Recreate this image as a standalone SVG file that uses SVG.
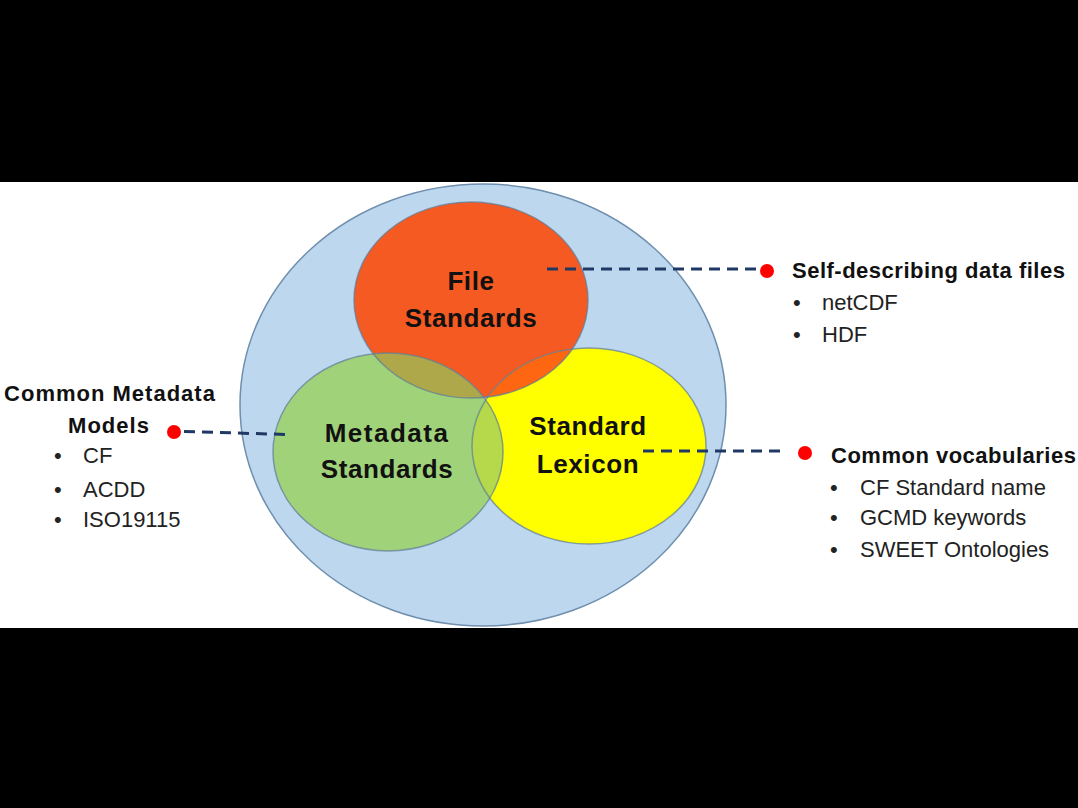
<svg xmlns="http://www.w3.org/2000/svg" width="1078" height="808" viewBox="0 0 1078 808">
<style>
.lbl{font-family:"Liberation Sans",Arial,sans-serif;font-weight:bold;font-size:26px;fill:#111;text-anchor:middle;letter-spacing:0.6px}
.hd{font-family:"Liberation Sans",Arial,sans-serif;font-weight:bold;font-size:22px;fill:#111;letter-spacing:0.5px}
.it{font-family:"Liberation Sans",Arial,sans-serif;font-size:22px;fill:#222}
.ol{fill:none;stroke:#5E7C98;stroke-width:1.5;stroke-opacity:0.7}
.dash{fill:none;stroke:#1F3864;stroke-width:3;stroke-dasharray:11 7}
.dot{fill:#FF0000}
</style>
<defs>
<clipPath id="cO"><ellipse cx="471" cy="300" rx="117" ry="98"/></clipPath>
<clipPath id="cG"><ellipse cx="388" cy="452" rx="115" ry="99"/></clipPath>
</defs>
<rect x="0" y="0" width="1078" height="808" fill="#000"/>
<rect x="0" y="182" width="1078" height="446" fill="#fff"/>
<g id="outer">
<ellipse cx="483" cy="405" rx="243" ry="221" fill="#BDD7EE" stroke="#6F8FAE" stroke-width="1.5"/>
</g>
<g id="file-standards">
<ellipse cx="471" cy="300" rx="117" ry="98" fill="#F55A22"/>
</g>
<g id="metadata-standards">
<ellipse cx="388" cy="452" rx="115" ry="99" fill="#A0D27A"/>
</g>
<g id="standard-lexicon">
<ellipse cx="589" cy="446" rx="117" ry="98" fill="#FFFF00"/>
</g>
<g id="overlaps">
<g clip-path="url(#cO)"><ellipse cx="388" cy="452" rx="115" ry="99" fill="#AFA84A"/><ellipse cx="589" cy="446" rx="117" ry="98" fill="#FF6612"/></g>
<g clip-path="url(#cG)"><ellipse cx="589" cy="446" rx="117" ry="98" fill="#B5D94A"/></g>
</g>
<g id="outlines">
<ellipse class="ol" cx="471" cy="300" rx="117" ry="98"/>
<ellipse class="ol" cx="388" cy="452" rx="115" ry="99"/>
<ellipse class="ol" cx="589" cy="446" rx="117" ry="98"/>
</g>
<g id="labels">
<text class="lbl" x="471" y="290">File</text>
<text class="lbl" x="471" y="327">Standards</text>
<text class="lbl" x="387" y="442" style="letter-spacing:1.5px">Metadata</text>
<text class="lbl" x="387" y="478">Standards</text>
<text class="lbl" x="588" y="435">Standard</text>
<text class="lbl" x="588" y="473">Lexicon</text>
</g>
<g id="connectors">
<line class="dash" x1="547" y1="269" x2="758" y2="269"/>
<line class="dash" x1="184" y1="431.5" x2="287" y2="434.5"/>
<line class="dash" x1="643" y1="451" x2="786" y2="451"/>
<circle class="dot" cx="767" cy="271" r="7"/>
<circle class="dot" cx="174" cy="432" r="7"/>
<circle class="dot" cx="805" cy="453" r="7"/>
</g>
<g id="note-files">
<text class="hd" x="792" y="278">Self-describing data files</text>
<text class="it" x="793" y="310">•</text><text class="it" x="822" y="310">netCDF</text>
<text class="it" x="793" y="342">•</text><text class="it" x="822" y="342">HDF</text>
</g>
<g id="note-models">
<text class="hd" x="110" y="401" text-anchor="middle" style="letter-spacing:1px">Common Metadata</text>
<text class="hd" x="109" y="433" text-anchor="middle" style="letter-spacing:1px">Models</text>
<text class="it" x="54" y="463">•</text><text class="it" x="83" y="463">CF</text>
<text class="it" x="54" y="497">•</text><text class="it" x="83" y="497">ACDD</text>
<text class="it" x="54" y="527">•</text><text class="it" x="83" y="527">ISO19115</text>
</g>
<g id="note-vocab">
<text class="hd" x="831" y="463">Common vocabularies</text>
<text class="it" x="830" y="495">•</text><text class="it" x="860" y="495">CF Standard name</text>
<text class="it" x="830" y="525">•</text><text class="it" x="860" y="525">GCMD keywords</text>
<text class="it" x="830" y="557">•</text><text class="it" x="860" y="557">SWEET Ontologies</text>
</g>
</svg>
